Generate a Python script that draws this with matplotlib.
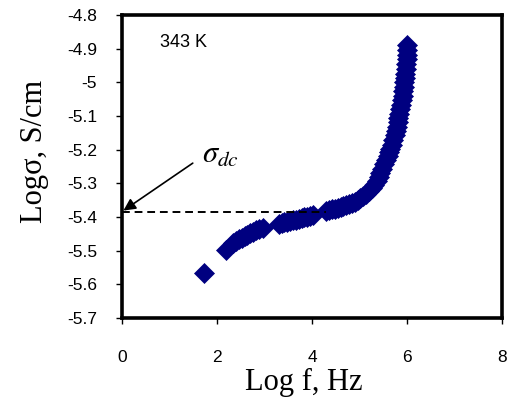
import matplotlib
matplotlib.use("Agg")
import matplotlib.pyplot as plt

# log f (Hz) and log sigma (S/cm)
log_f = [1.72, 2.19,
         2.34, 2.40, 2.46, 2.52, 2.58, 2.64, 2.70, 2.76, 2.82, 2.88, 2.97,
         3.30, 3.36, 3.42, 3.48, 3.54, 3.60, 3.66, 3.72, 3.78, 3.84, 3.90, 3.96, 4.02,
         4.30, 4.36, 4.42, 4.48, 4.54, 4.60, 4.66, 4.72, 4.78, 4.84, 4.90, 4.96,
         5.02, 5.08, 5.14, 5.20, 5.26, 5.31, 5.36, 5.40, 5.44, 5.48, 5.52, 5.56,
         5.59, 5.62, 5.65, 5.68, 5.71, 5.74, 5.76, 5.78, 5.80, 5.82, 5.84, 5.86,
         5.88, 5.90, 5.91, 5.92, 5.93, 5.94, 5.95, 5.96, 5.97, 5.98, 5.99, 5.995,
         6.00, 6.005]
log_sigma = [-5.565, -5.499,
             -5.477, -5.470, -5.466, -5.461, -5.456, -5.452, -5.448, -5.444, -5.440, -5.437, -5.433,
             -5.420, -5.418, -5.416, -5.414, -5.412, -5.410, -5.408, -5.406, -5.404, -5.401, -5.399, -5.397, -5.394,
             -5.381, -5.379, -5.377, -5.375, -5.373, -5.370, -5.367, -5.364, -5.361, -5.358, -5.354, -5.350,
             -5.345, -5.339, -5.332, -5.324, -5.314, -5.304, -5.292, -5.280, -5.268, -5.256, -5.243, -5.230,
             -5.219, -5.208, -5.197, -5.185, -5.172, -5.157, -5.145, -5.132, -5.119, -5.106, -5.093, -5.080,
             -5.066, -5.052, -5.040, -5.027, -5.014, -5.000, -4.987, -4.974, -4.960, -4.946, -4.932, -4.918,
             -4.904, -4.890]

sigma_dc = -5.384

plt.rcParams['mathtext.fontset'] = 'stix'
plt.rcParams['font.family'] = 'Liberation Sans'

fig = plt.figure(figsize=(5.13, 4.01), dpi=100)
ax = fig.add_axes([122/513, 1 - 318/401, 380/513, 303/401])

ax.plot(log_f, log_sigma, linestyle='none', marker='D', markersize=10,
        color='#000080', markeredgecolor='#000080', markeredgewidth=0.5)

# dashed sigma_dc level
ax.plot([0, 4.3], [sigma_dc, sigma_dc], color='black', linestyle=(0, (4, 2.5)), linewidth=1.4)
ax.annotate('', xy=(0.03, sigma_dc + 0.003), xytext=(1.49, -5.24),
            arrowprops=dict(arrowstyle='-|>', color='black', lw=1.2,
                            mutation_scale=18, shrinkA=0, shrinkB=0))
ax.text(1.68, -5.24, r'$\sigma_{dc}$', fontsize=22, ha='left', va='baseline')
ax.text(0.8, -4.883, '343 K', fontsize=13, ha='left', va='center')

ax.set_xlim(0, 8)
ax.set_ylim(-5.7, -4.8)
ax.set_xticks([0, 2, 4, 6, 8])
ax.set_yticks([-5.7, -5.6, -5.5, -5.4, -5.3, -5.2, -5.1, -5.0, -4.9, -4.8])
ax.set_yticklabels(['-5.7', '-5.6', '-5.5', '-5.4', '-5.3', '-5.2', '-5.1', '-5', '-4.9', '-4.8'])
ax.tick_params(direction='out', length=4, width=1, labelsize=12.5)
ax.tick_params(axis='y', pad=14)
ax.tick_params(axis='x', pad=19)
for s in ax.spines.values():
    s.set_linewidth(2.6)

ax.set_xlabel('Log f, Hz', fontsize=22, family='Liberation Serif')
ax.set_ylabel('Log\u03c3, S/cm', fontsize=22, family='Liberation Serif')
ax.xaxis.set_label_coords(0.479, -0.165)
ax.yaxis.set_label_coords(-0.192, 0.551)

plt.savefig('out.png', dpi=100)
